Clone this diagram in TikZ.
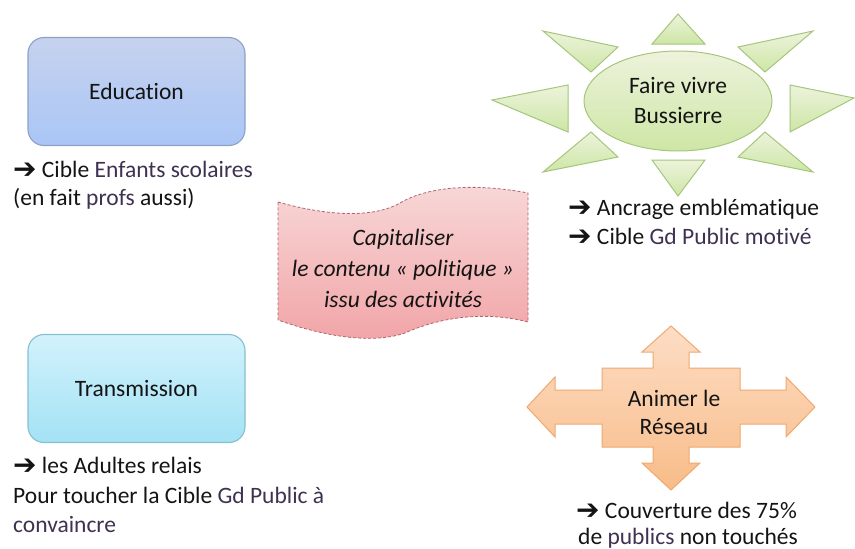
\documentclass[tikz,border=0pt]{standalone}
\usepackage{fontspec}
\setmainfont{Carlito}[Ligatures=NoCommon]
\newfontfamily\symfont{DejaVu Sans}
\usetikzlibrary{shapes.geometric}
\definecolor{txt}{HTML}{141414}
\definecolor{plum}{HTML}{3F3151}
\definecolor{eduTop}{HTML}{C6D2EE}
\definecolor{eduBot}{HTML}{AAC6F6}
\definecolor{eduLine}{HTML}{8DA0C8}
\definecolor{trTop}{HTML}{D2F2FB}
\definecolor{trBot}{HTML}{A3E2F5}
\definecolor{trLine}{HTML}{86BFD0}
\definecolor{sunTop}{HTML}{EDF3DC}
\definecolor{sunBot}{HTML}{CDE6A5}
\definecolor{sunLine}{HTML}{A5C67C}
\definecolor{crossTop}{HTML}{FDDDC5}
\definecolor{crossBot}{HTML}{F8BC88}
\definecolor{crossLine}{HTML}{EFA870}
\definecolor{waveTop}{HTML}{F8D8D8}
\definecolor{waveBot}{HTML}{F1A3A6}
\definecolor{waveLine}{HTML}{B0646E}
\newcommand{\myarr}{\raisebox{-1pt}{\symfont\bfseries\fontsize{28}{28}\selectfont ➔}}
\begin{document}
\begin{tikzpicture}[x=1pt,y=-1pt,
  every node/.style={font=\fontsize{23.5}{29}\selectfont, text=txt, inner sep=0pt},
  rbox/.style={draw, line width=1.1pt, rounded corners=16pt, minimum width=217pt, minimum height=108pt},
  edubox/.style={rbox, draw=eduLine, top color=eduTop, bottom color=eduBot},
  trbox/.style={rbox, draw=trLine, top color=trTop, bottom color=trBot},
  sunpart/.style={draw=sunLine, line width=1pt, top color=sunTop, bottom color=sunBot},
  crossshape/.style={draw=crossLine, line width=1pt, top color=crossTop, bottom color=crossBot, line join=miter},
  waveshape/.style={draw=waveLine, line width=0.8pt, dash pattern=on 3pt off 2pt, top color=waveTop, bottom color=waveBot},
  caption/.style={anchor=base west}
]
\useasboundingbox (0,0) rectangle (855,549);

% Education
\node[edubox] (edu) at (136.5,91.5) {\raisebox{-3pt}{Education}};
\node[caption] (educ1) at (13,177) {\myarr{} Cible \textcolor{plum}{Enfants scolaires}};
\node[caption] (educ2) at (13,205) {(en fait \textcolor{plum}{profs} aussi)};

% Transmission
\node[trbox] (tr) at (136.5,388.5) {\raisebox{-3pt}{Transmission}};
\node[caption] (trc1) at (13,473) {\myarr{} les Adultes relais};
\node[caption] (trc2) at (13,503) {Pour toucher la Cible \textcolor{plum}{Gd Public à}};
\node[caption] (trc3) at (13,532) {\textcolor{plum}{convaincre}};

% Sun
\path[sunpart] (652,44) -- (705,44) -- (678,14) -- cycle;
\path[sunpart] (652,160) -- (705,160) -- (678,196) -- cycle;
\path[sunpart] (568,85) -- (568,132) -- (492,100) -- cycle;
\path[sunpart] (790,85) -- (790,132) -- (854,98) -- cycle;
\path[sunpart] (543,31) -- (618,47) -- (591,72) -- cycle;
\path[sunpart] (813,31) -- (738,47) -- (765,72) -- cycle;
\path[sunpart] (543,172) -- (618,157) -- (591,132) -- cycle;
\path[sunpart] (813,172) -- (738,157) -- (765,132) -- cycle;
\node[sunpart, ellipse, minimum width=188pt, minimum height=100pt, align=center] (sun) at (678,101) {Faire vivre\\[1pt]Bussierre};
\node[caption] (sunc1) at (568,215) {\myarr{} Ancrage emblématique};
\node[caption] (sunc2) at (568,244) {\myarr{} Cible \textcolor{plum}{Gd Public motivé}};

% Capitaliser wave
\path[waveshape] (278,202) .. controls (320,214) and (370,220) .. (400,203)
  .. controls (425,188) and (470,182) .. (528,193) -- (528,322)
  .. controls (490,312) and (445,315) .. (405,333)
  .. controls (370,345) and (320,335) .. (278,320) -- cycle;
\node[align=center, font=\fontsize{23.5}{31}\selectfont\itshape] (cap) at (403,268)
  {Capitaliser\\le contenu «~politique~»\\issu des activités};

% Cross arrow
\path[crossshape] (671,326) -- (700,352) -- (689,352) -- (689,368) -- (740,368) -- (740,390)
  -- (786,390) -- (786,377) -- (815,407) -- (786,437) -- (786,424) -- (740,424)
  -- (740,447) -- (689,447) -- (689,463) -- (700,463) -- (671,490) -- (642,463)
  -- (653,463) -- (653,447) -- (602,447) -- (602,424) -- (555,424) -- (555,437)
  -- (527,407) -- (555,377) -- (555,390) -- (602,390) -- (602,368) -- (653,368)
  -- (653,352) -- (642,352) -- cycle;
\node[align=center, font=\fontsize{23.5}{28}\selectfont] (anim) at (674,412) {Animer le\\Réseau};
\node[caption] (crc1) at (576,518) {\myarr{} Couverture des 75\%};
\node[caption] (crc2) at (578,544) {de \textcolor{plum}{publics} non touchés};
\end{tikzpicture}
\end{document}
